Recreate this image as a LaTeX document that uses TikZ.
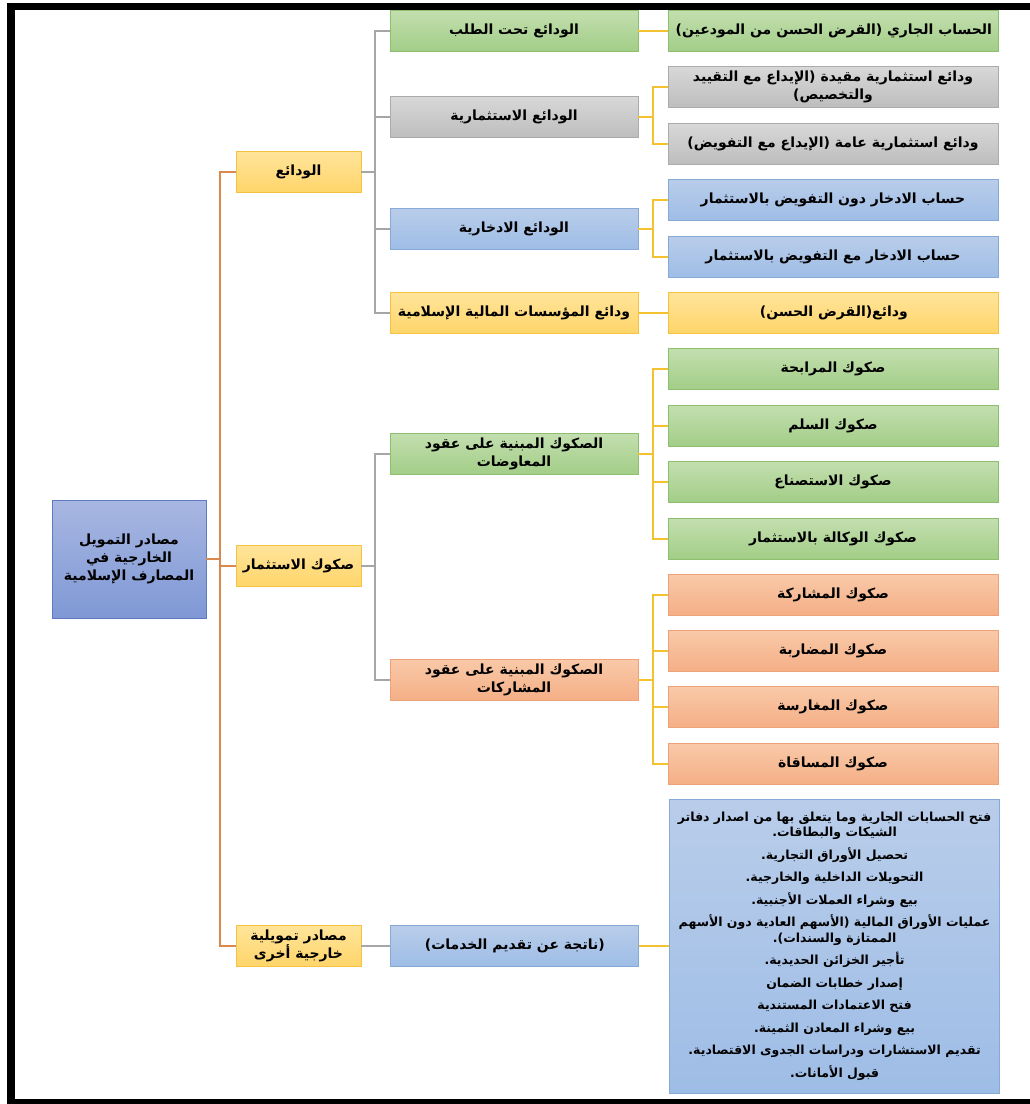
\documentclass[tikz,border=0pt]{standalone}
\usepackage{fontspec}
\usepackage{xcolor}
\usepackage{tikz}
\usetikzlibrary{positioning}
\TeXXeTstate=1
\newfontfamily\arabicfont[Script=Arabic]{DejaVu Sans}
\newcommand{\artxt}[1]{\beginR #1\endR}
\definecolor{greentop}{HTML}{C3DFB0}
\definecolor{greenbot}{HTML}{A2CD86}
\definecolor{greenline}{HTML}{8DBF6F}
\definecolor{graytop}{HTML}{D8D8D8}
\definecolor{graybot}{HTML}{BDBDBD}
\definecolor{grayline}{HTML}{ABABAB}
\definecolor{bluetop}{HTML}{B9CDEA}
\definecolor{bluebot}{HTML}{9EBDE6}
\definecolor{blueline}{HTML}{87A9D6}
\definecolor{yellowtop}{HTML}{FFE49A}
\definecolor{yellowbot}{HTML}{FFD56A}
\definecolor{yellowline}{HTML}{F5C242}
\definecolor{salmontop}{HTML}{F9C9A8}
\definecolor{salmonbot}{HTML}{F4AF86}
\definecolor{salmonline}{HTML}{EFA27A}
\definecolor{roottop}{HTML}{A8B7E2}
\definecolor{rootbot}{HTML}{7F98D5}
\definecolor{rootline}{HTML}{5F7BBF}
\definecolor{orangeln}{HTML}{D98850}
\definecolor{grayln}{HTML}{A6A6A6}
\definecolor{yellowln}{HTML}{F2C230}
\tikzset{
  box/.style={
    rectangle, draw=#1line, top color=#1top, bottom color=#1bot,
    line width=0.8pt, minimum height=41pt, inner sep=2pt,
    align=center, font=\arabicfont\bfseries\fontsize{14}{18}\selectfont,
  },
  lvlone/.style={box=#1, minimum width=125pt},
  lvltwo/.style={box=#1, minimum width=248pt},
  lvlthree/.style={box=#1, minimum width=330pt},
  link/.style={line width=1.8pt, draw=#1},
}

\begin{document}
\begin{tikzpicture}[x=1pt, y=-1pt]
\useasboundingbox (0,0) rectangle (1030,1104);

% ===== frame =====
\fill[black] (7,3) rectangle (1030,10);
\fill[black] (7,3) rectangle (15,1104);
\fill[black] (7,1099) rectangle (1030,1104);

% ===== root =====
\node[box=root, minimum width=154pt, minimum height=118pt] (root) at (129,559)
  {\artxt{مصادر التمويل}\\\artxt{الخارجية في}\\\artxt{المصارف الإسلامية}};

% ===== level 1 =====
\node[lvlone=yellow] (wadaei) at (298.5,172) {\artxt{الودائع}};
\node[lvlone=yellow] (sukuk) at (298.5,566) {\artxt{صكوك الاستثمار}};
\node[lvlone=yellow] (ukhra) at (298.5,946) {\artxt{مصادر تمويلية}\\\artxt{خارجية أخرى}};

% ===== level 2 =====
\node[lvltwo=green] (talab) at (514,31) {\artxt{الودائع تحت الطلب}};
\node[lvltwo=gray] (istithmar) at (514,117) {\artxt{الودائع الاستثمارية}};
\node[lvltwo=blue] (iddikhar) at (514,229) {\artxt{الودائع الادخارية}};
\node[lvltwo=yellow] (muassasat) at (514,313) {\artxt{ودائع المؤسسات المالية الإسلامية}};
\node[lvltwo=green] (muawadat) at (514,454) {\artxt{الصكوك المبنية على عقود}\\\artxt{المعاوضات}};
\node[lvltwo=salmon] (musharakat) at (514,680) {\artxt{الصكوك المبنية على عقود}\\\artxt{المشاركات}};
\node[lvltwo=blue, right=29pt of ukhra] (natija) {\artxt{(ناتجة عن تقديم الخدمات)}};

% ===== level 3 =====
\node[lvlthree=green, right=30pt of talab] (jari) {\artxt{الحساب الجاري (القرض الحسن من المودعين)}};
\node[lvlthree=gray] (muqayyada) at (833,87) {\artxt{ودائع استثمارية مقيدة (الإيداع مع التقييد}\\\artxt{والتخصيص)}};
\node[lvlthree=gray] (amma) at (833,144) {\artxt{ودائع استثمارية عامة (الإيداع مع التفويض)}};
\node[lvlthree=blue] (dun) at (833,200) {\artxt{حساب الادخار دون التفويض بالاستثمار}};
\node[lvlthree=blue] (maa) at (833,257) {\artxt{حساب الادخار مع التفويض بالاستثمار}};
\node[lvlthree=yellow, right=30pt of muassasat] (qard) {\artxt{ودائع(القرض الحسن)}};
\node[lvlthree=green] (murabaha) at (833,369) {\artxt{صكوك المرابحة}};
\node[lvlthree=green] (salam) at (833,426) {\artxt{صكوك السلم}};
\node[lvlthree=green] (istisna) at (833,482) {\artxt{صكوك الاستصناع}};
\node[lvlthree=green] (wakala) at (833,539) {\artxt{صكوك الوكالة بالاستثمار}};
\node[lvlthree=salmon] (musharaka) at (833,595) {\artxt{صكوك المشاركة}};
\node[lvlthree=salmon] (mudaraba) at (833,651) {\artxt{صكوك المضاربة}};
\node[lvlthree=salmon] (mugharasa) at (833,707) {\artxt{صكوك المغارسة}};
\node[lvlthree=salmon] (musaqat) at (833,764) {\artxt{صكوك المساقاة}};
\node[lvlthree=blue, minimum height=294pt, right=30pt of natija,
  font=\arabicfont\bfseries\fontsize{12.5}{15.5}\selectfont] (services)
  {\artxt{فتح الحسابات الجارية وما يتعلق بها من اصدار دفاتر}\\
   \artxt{الشيكات والبطاقات.}\\[7pt]
   \artxt{تحصيل الأوراق التجارية.}\\[7pt]
   \artxt{التحويلات الداخلية والخارجية.}\\[7pt]
   \artxt{بيع وشراء العملات الأجنبية.}\\[7pt]
   \artxt{عمليات الأوراق المالية (الأسهم العادية دون الأسهم}\\
   \artxt{الممتازة والسندات).}\\[7pt]
   \artxt{تأجير الخزائن الحديدية.}\\[7pt]
   \artxt{إصدار خطابات الضمان}\\[7pt]
   \artxt{فتح الاعتمادات المستندية}\\[7pt]
   \artxt{بيع وشراء المعادن الثمينة.}\\[7pt]
   \artxt{تقديم الاستشارات ودراسات الجدوى الاقتصادية.}\\[7pt]
   \artxt{قبول الأمانات.}};

% ===== root -> level 1 =====
\draw[link=orangeln] (root.east) -- ++(14,0);
\draw[link=orangeln] (wadaei.west) -- ++(-16,0) |- (ukhra.west);
\draw[link=orangeln] (sukuk.west) -- ++(-16,0);

% ===== level 1 -> level 2 =====
\draw[link=grayln] (wadaei.east) -- ++(14,0);
\draw[link=grayln] (talab.west) -- ++(-15,0) |- (muassasat.west);
\draw[link=grayln] (istithmar.west) -- ++(-15,0);
\draw[link=grayln] (iddikhar.west) -- ++(-15,0);
\draw[link=grayln] (sukuk.east) -- ++(14,0);
\draw[link=grayln] (muawadat.west) -- ++(-15,0) |- (musharakat.west);
\draw[link=grayln] (ukhra) -- (natija);

% ===== level 2 -> level 3 =====
\draw[link=yellowln] (talab) -- (jari);
\draw[link=yellowln] (istithmar.east) -- ++(15,0);
\draw[link=yellowln] (muqayyada.west) -- ++(-15,0) |- (amma.west);
\draw[link=yellowln] (iddikhar.east) -- ++(15,0);
\draw[link=yellowln] (dun.west) -- ++(-15,0) |- (maa.west);
\draw[link=yellowln] (muassasat) -- (qard);
\draw[link=yellowln] (muawadat.east) -- ++(15,0);
\draw[link=yellowln] (murabaha.west) -- ++(-15,0) |- (wakala.west);
\draw[link=yellowln] (salam.west) -- ++(-15,0);
\draw[link=yellowln] (istisna.west) -- ++(-15,0);
\draw[link=yellowln] (musharakat.east) -- ++(15,0);
\draw[link=yellowln] (musharaka.west) -- ++(-15,0) |- (musaqat.west);
\draw[link=yellowln] (mudaraba.west) -- ++(-15,0);
\draw[link=yellowln] (mugharasa.west) -- ++(-15,0);
\draw[link=yellowln] (natija) -- (services);

\end{tikzpicture}
\end{document}
